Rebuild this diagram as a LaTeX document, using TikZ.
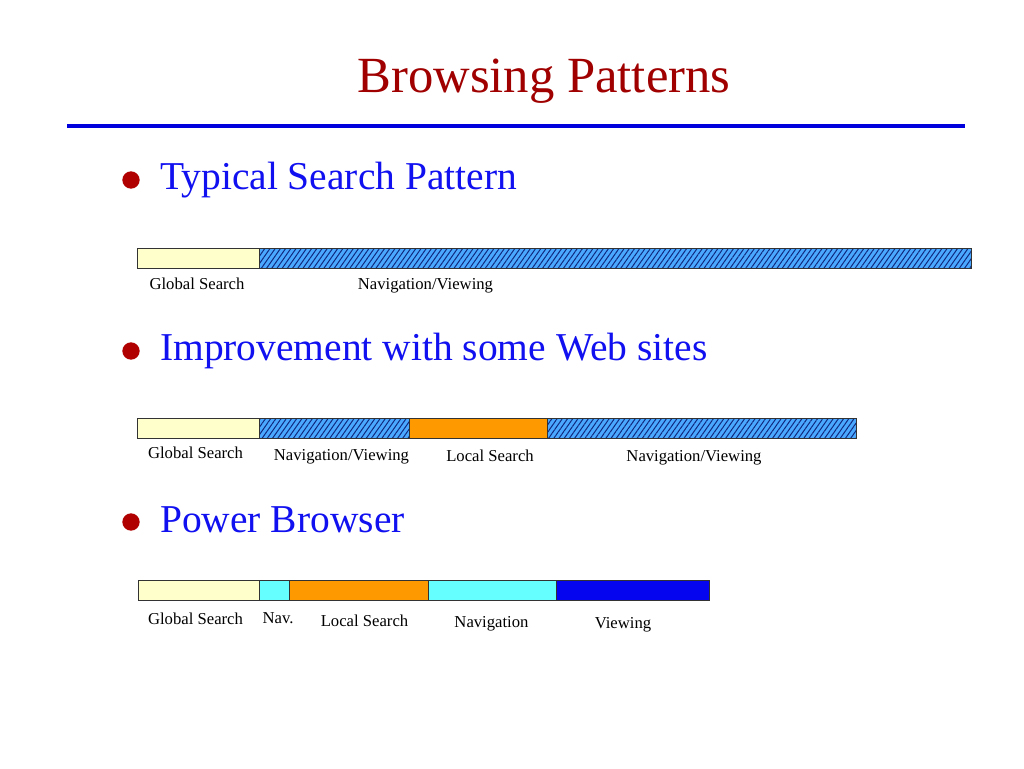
\documentclass[tikz,border=0pt]{standalone}
\usepackage{fontspec}
\setmainfont{Liberation Serif}
\usetikzlibrary{patterns.meta}
\definecolor{titlered}{HTML}{A00000}
\definecolor{dotred}{HTML}{B00000}
\definecolor{textblue}{HTML}{1010F0}
\definecolor{rulerblue}{HTML}{0000DD}
\definecolor{paleyellow}{HTML}{FFFFCC}
\definecolor{segorange}{HTML}{FF9900}
\definecolor{segcyan}{HTML}{66FFFF}
\definecolor{segblue}{HTML}{0505F0}
\definecolor{hatchbase}{HTML}{4AA8FF}
\definecolor{hatchline}{HTML}{102A80}
\tikzset{
  seg/.style={draw=black!80, line width=0.6pt},
  hatched/.style={seg, preaction={fill=hatchbase}, pattern={Lines[angle=55,distance=3.2pt,line width=0.75pt]}, pattern color=hatchline},
  lbl/.style={anchor=base, inner sep=0pt, font=\fontsize{12.5}{14}\selectfont},
  bullettext/.style={anchor=base west, inner sep=0pt, text=textblue, font=\fontsize{29.6}{32}\selectfont},
  dot/.style={circle, fill=dotred, minimum size=13pt, inner sep=0pt},
}
\begin{document}
\begin{tikzpicture}[x=0.75pt,y=-0.75pt]
\useasboundingbox[fill=white] (0,0) rectangle (1024,768);
% title
\node[anchor=base, inner sep=0pt, text=titlered, font=\fontsize{38}{40}\selectfont] (title) at (544,92) {Browsing Patterns};
\coordinate (rl) at (67,126);
\coordinate (rr) at (965,126);
\draw[rulerblue, line width=2.3pt] (rl) -- (rr);
% bullet 1
\node[dot] (d1) at (131,180) {};
\node[bullettext] (b1) at (160,189) {Typical Search Pattern};
\path[seg, fill=paleyellow] (137,248) rectangle (259,268);
\path[hatched] (259,248) rectangle (971,268);
\node[lbl] (l11) at (197,289) {Global Search};
\node[lbl] (l12) at (425.5,289) {Navigation/Viewing};
% bullet 2
\node[dot] (d2) at (131,351) {};
\node[bullettext] (b2) at (160,360) {Improvement with some Web sites};
\path[seg, fill=paleyellow] (137,418) rectangle (259,438);
\path[hatched] (259,418) rectangle (409,438);
\path[seg, fill=segorange] (409,418) rectangle (547,438);
\path[hatched] (547,418) rectangle (856,438);
\node[lbl] (l21) at (195.5,458) {Global Search};
\node[lbl] (l22) at (341.5,460) {Navigation/Viewing};
\node[lbl] (l23) at (490,461) {Local Search};
\node[lbl] (l24) at (694,461) {Navigation/Viewing};
% bullet 3
\node[dot] (d3) at (131,522) {};
\node[bullettext] (b3) at (160,532) {Power Browser};
\path[seg, fill=paleyellow] (138,580) rectangle (259,600);
\path[seg, fill=segcyan] (259,580) rectangle (289,600);
\path[seg, fill=segorange] (289,580) rectangle (428,600);
\path[seg, fill=segcyan] (428,580) rectangle (556,600);
\path[seg, fill=segblue] (556,580) rectangle (709,600);
\node[lbl] (l31) at (195.5,624) {Global Search};
\node[lbl] (l32) at (278,623) {Nav.};
\node[lbl] (l33) at (364.5,626) {Local Search};
\node[lbl] (l34) at (491.5,627) {Navigation};
\node[lbl] (l35) at (623,628) {Viewing};
\end{tikzpicture}
\end{document}
